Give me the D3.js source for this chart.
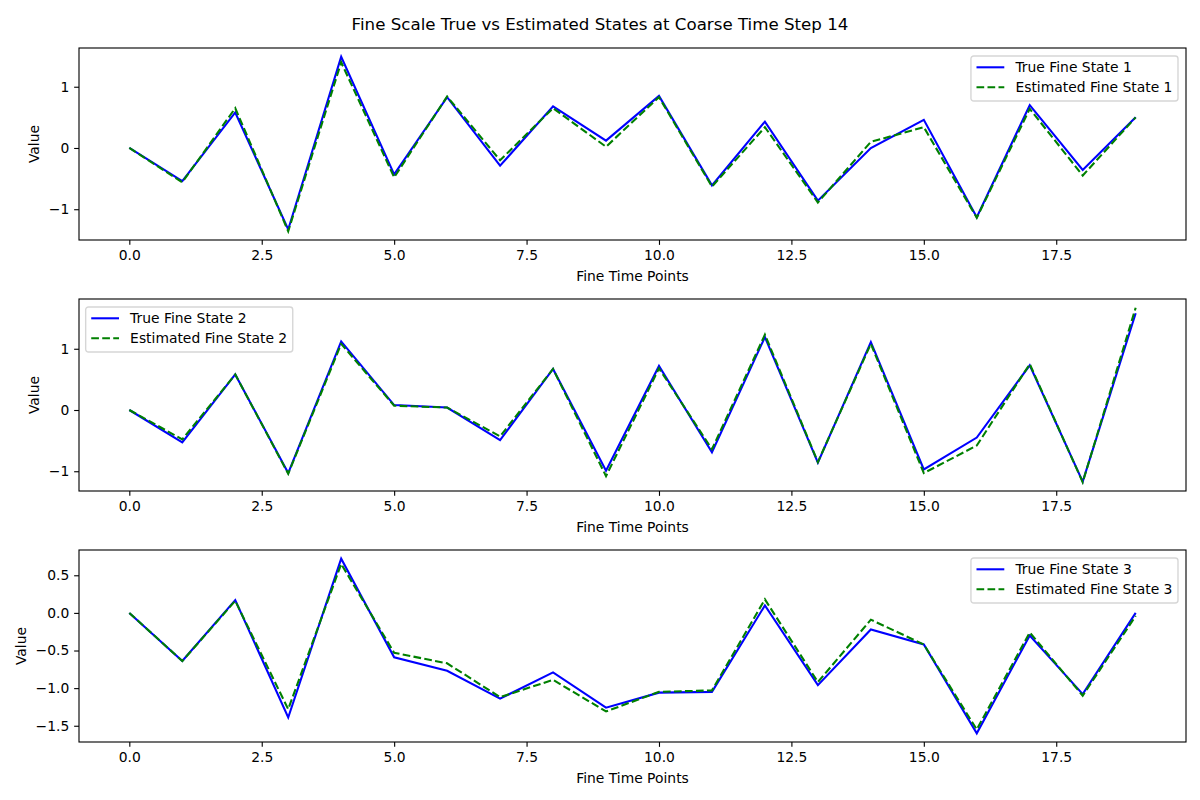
<!DOCTYPE html>
<html>
<head>
<meta charset="utf-8">
<script src="https://cdn.jsdelivr.net/npm/d3@7"></script>
<style>
  body { margin: 0; background: #fff; }
  svg text { font-family: "DejaVu Sans", sans-serif; fill: #000; }
</style>
</head>
<body>
<div id="chart"></div>
<script>
// --- Data ---
const finePoints = [0, 1, 2, 3, 4, 5, 6, 7, 8, 9, 10, 11, 12, 13, 14, 15, 16, 17, 18, 19];

const trueState1 = [0.00, -0.54, 0.58, -1.33, 1.49, -0.43, 0.83, -0.29, 0.68, 0.12, 0.85, -0.61, 0.43, -0.86, 0.00, 0.46, -1.13, 0.70, -0.36, 0.50];
const estState1  = [0.00, -0.56, 0.65, -1.36, 1.40, -0.48, 0.84, -0.20, 0.65, 0.02, 0.83, -0.63, 0.34, -0.89, 0.10, 0.34, -1.14, 0.64, -0.45, 0.50];

const trueState2 = [0.00, -0.53, 0.58, -1.03, 1.12, 0.08, 0.04, -0.49, 0.67, -0.99, 0.72, -0.69, 1.19, -0.86, 1.11, -0.97, -0.45, 0.73, -1.17, 1.58];
const estState2  = [0.00, -0.48, 0.58, -1.04, 1.08, 0.07, 0.04, -0.43, 0.67, -1.08, 0.68, -0.64, 1.23, -0.85, 1.08, -1.03, -0.58, 0.75, -1.18, 1.67];

const trueState3 = [0.00, -0.64, 0.17, -1.39, 0.72, -0.59, -0.77, -1.14, -0.79, -1.26, -1.06, -1.05, 0.10, -0.96, -0.22, -0.42, -1.60, -0.30, -1.08, 0.00];
const estState3  = [0.00, -0.64, 0.16, -1.28, 0.65, -0.53, -0.67, -1.12, -0.89, -1.31, -1.05, -1.03, 0.18, -0.92, -0.09, -0.42, -1.55, -0.26, -1.10, -0.04];

const xTicks = [0, 2.5, 5, 7.5, 10, 12.5, 15, 17.5];
const yTicks1 = [-1, 0, 1];
const yTicks2 = [-1, 0, 1];
const yTicks3 = [-1.5, -1.0, -0.5, 0.0, 0.5];

const titleText = "Fine Scale True vs Estimated States at Coarse Time Step 14";

// --- Layout ---
const W = 1200, H = 800;
const left = 79, right = 1186;
const fs = 13.89;           // 10pt at 100 dpi
const lw = 2.08;            // 1.5pt
const dash = "7.7,3.3";
const tick = 4.86;

const svg = d3.select("#chart").append("svg")
    .attr("width", W)
    .attr("height", H);

svg.append("text")
    .attr("x", W / 2)
    .attr("y", 30)
    .attr("text-anchor", "middle")
    .attr("font-size", "16.67px")
    .text(titleText);

const panels = [
    { top: 48, bottom: 240, t: trueState1, e: estState1, ticks: yTicks1, fmt: d3.format(".0f"), n: 1, legend: "right", ylabX: 39 },
    { top: 299, bottom: 491, t: trueState2, e: estState2, ticks: yTicks2, fmt: d3.format(".0f"), n: 2, legend: "left", ylabX: 39 },
    { top: 550, bottom: 742, t: trueState3, e: estState3, ticks: yTicks3, fmt: d3.format(".1f"), n: 3, legend: "right", ylabX: 26 }
];

panels.forEach(drawPanel);

function drawPanel(p) {
    // x range with matplotlib-like 5% margins
    const xExt = d3.extent(finePoints);
    const xPad = (xExt[1] - xExt[0]) * 0.05;
    const x = d3.scaleLinear()
        .domain([xExt[0] - xPad, xExt[1] + xPad])
        .range([left, right]);

    const yExt = d3.extent(p.t.concat(p.e));
    const yPad = (yExt[1] - yExt[0]) * 0.05;
    const y = d3.scaleLinear()
        .domain([yExt[0] - yPad, yExt[1] + yPad])
        .range([p.bottom, p.top]);

    const g = svg.append("g");

    // Lines
    const line = d3.line()
        .x((d, i) => x(finePoints[i]))
        .y(d => y(d));

    g.append("path")
        .datum(p.t)
        .attr("fill", "none")
        .attr("stroke", "#0000ff")
        .attr("stroke-width", lw)
        .attr("d", line);

    g.append("path")
        .datum(p.e)
        .attr("fill", "none")
        .attr("stroke", "#008000")
        .attr("stroke-width", lw)
        .attr("stroke-dasharray", dash)
        .attr("d", line);

    // Axes
    const xAxis = g.append("g")
        .attr("transform", `translate(0,${p.bottom})`)
        .call(d3.axisBottom(x).tickValues(xTicks).tickFormat(d3.format(".1f"))
            .tickSizeOuter(0).tickSize(tick).tickPadding(4.86));

    const yAxis = g.append("g")
        .attr("transform", `translate(${left},0)`)
        .call(d3.axisLeft(y).tickValues(p.ticks).tickFormat(p.fmt)
            .tickSizeOuter(0).tickSize(tick).tickPadding(4.86));

    [xAxis, yAxis].forEach(a => {
        a.select(".domain").remove();
        a.selectAll("line").attr("stroke", "#000").attr("stroke-width", 1.11);
        a.selectAll("text").attr("font-size", fs + "px").attr("font-family", "DejaVu Sans, sans-serif");
    });

    // Frame
    g.append("rect")
        .attr("x", left)
        .attr("y", p.top)
        .attr("width", right - left)
        .attr("height", p.bottom - p.top)
        .attr("fill", "none")
        .attr("stroke", "#000")
        .attr("stroke-width", 1.11);

    // Axis labels
    g.append("text")
        .attr("x", (left + right) / 2)
        .attr("y", p.bottom + 41)
        .attr("text-anchor", "middle")
        .attr("font-size", fs + "px")
        .text("Fine Time Points");

    g.append("text")
        .attr("transform", `translate(${p.ylabX},${(p.top + p.bottom) / 2}) rotate(-90)`)
        .attr("text-anchor", "middle")
        .attr("font-size", fs + "px")
        .text("Value");

    // Legend
    const labels = [`True Fine State ${p.n}`, `Estimated Fine State ${p.n}`];
    const pad = 5.56, hl = 27.8, htp = 11.1;
    const leg = g.append("g");
    const box = leg.append("rect")
        .attr("fill", "#fff")
        .attr("fill-opacity", 0.8)
        .attr("stroke", "#cccccc")
        .attr("stroke-opacity", 0.8)
        .attr("stroke-width", 1.39)
        .attr("rx", 2.8);

    const rowY = [11.3, 31.3];
    const texts = labels.map((lab, i) => leg.append("text")
        .attr("font-size", fs + "px")
        .attr("x", pad + hl + htp)
        .attr("y", rowY[i] + 5)
        .text(lab));

    leg.append("line")
        .attr("x1", pad).attr("x2", pad + hl)
        .attr("y1", rowY[0]).attr("y2", rowY[0])
        .attr("stroke", "#0000ff").attr("stroke-width", lw);
    leg.append("line")
        .attr("x1", pad).attr("x2", pad + hl)
        .attr("y1", rowY[1]).attr("y2", rowY[1])
        .attr("stroke", "#008000").attr("stroke-width", lw)
        .attr("stroke-dasharray", dash);

    const tw = d3.max(texts, t => t.node().getComputedTextLength());
    const bw = pad * 2 + hl + htp + tw;
    const bh = 45;
    box.attr("width", bw).attr("height", bh);

    const lx = p.legend === "right" ? right - 8 - bw : left + 6.67;
    leg.attr("transform", `translate(${lx},${p.top + 8})`);
}
</script>
</body>
</html>
